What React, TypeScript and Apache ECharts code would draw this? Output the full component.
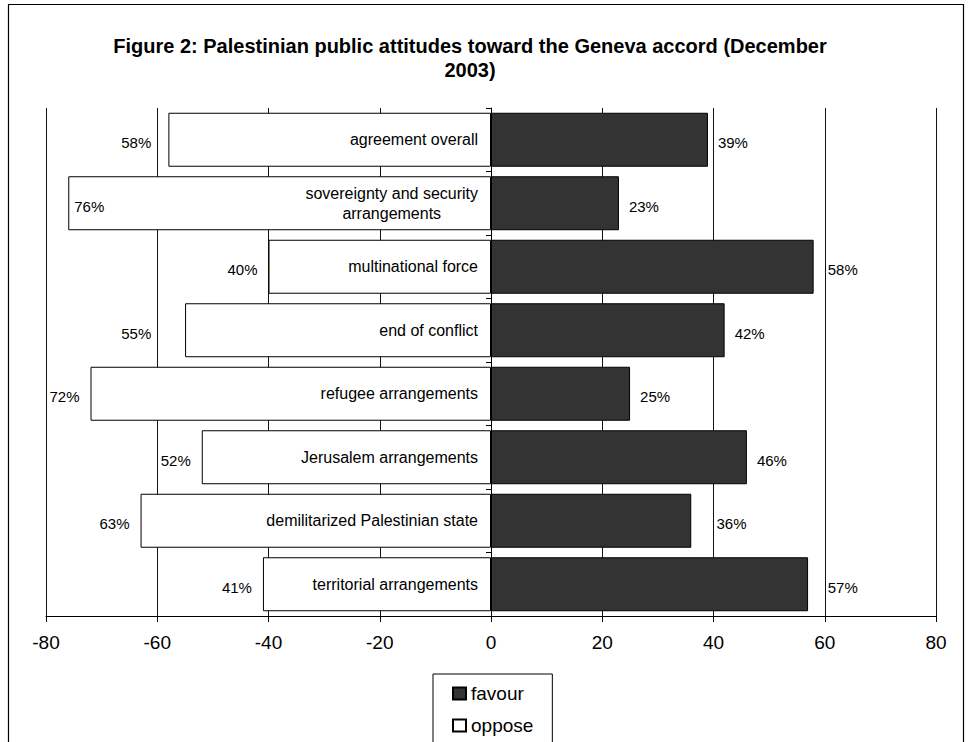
import React, { useEffect, useRef } from "react";
import * as echarts from "echarts";

const titleText =
  "Figure 2: Palestinian public attitudes toward the Geneva accord (December\n2003)";
const categories = [
  "agreement overall",
  "sovereignty and security\narrangements",
  "multinational force",
  "end of conflict",
  "refugee arrangements",
  "Jerusalem arrangements",
  "demilitarized Palestinian state",
  "territorial arrangements",
];
const favour = [39, 23, 58, 42, 25, 46, 36, 57];
const oppose = [58, 76, 40, 55, 72, 52, 63, 41];
const seriesNames = ["favour", "oppose"];
const xMin = -80;
const xMax = 80;
const xInterval = 20;

const FONT = '"Liberation Sans", Arial, Helvetica, sans-serif';
const VALUE_FONT_SIZE = 15;
const FAV_DIST = 10;
const OPP_DIST = 11;

function buildOption(favOff: number[], oppOff: number[]): any {
  return {
    animation: false,
    backgroundColor: "#ffffff",
    textStyle: { fontFamily: FONT, color: "#000" },
    title: {
      text: titleText,
      left: 470,
      top: 34,
      padding: 0,
      textAlign: "center",
      textStyle: {
        fontFamily: FONT,
        fontSize: 20,
        fontWeight: "bold",
        lineHeight: 24,
        color: "#000",
      },
    },
    graphic: [
      {
        type: "rect",
        silent: true,
        z: -10,
        shape: { x: 8.5, y: 4.5, width: 955, height: 800 },
        style: { fill: "none", stroke: "#000", lineWidth: 1.2 },
      },
    ],
    legend: {
      data: seriesNames,
      orient: "vertical",
      left: 433,
      top: 674,
      height: 200,
      padding: [10, 19, 10, 19],
      itemGap: 13,
      itemWidth: 13,
      itemHeight: 12,
      icon: "rect",
      selectedMode: false,
      borderColor: "#000",
      borderWidth: 1,
      textStyle: { fontFamily: FONT, fontSize: 19, color: "#000" },
    },
    grid: {
      left: 46,
      right: 36,
      top: 108,
      bottom: 126,
      containLabel: false,
      outerBoundsMode: "none",
    },
    xAxis: {
      type: "value",
      min: xMin,
      max: xMax,
      interval: xInterval,
      axisLine: { show: true, lineStyle: { color: "#000", width: 1 } },
      axisTick: { show: true, length: 6, lineStyle: { color: "#000" } },
      axisLabel: {
        fontFamily: FONT,
        fontSize: 19,
        color: "#000",
        margin: 17,
      },
      splitLine: { show: true, lineStyle: { color: "#111", width: 1 } },
    },
    yAxis: {
      type: "category",
      data: categories,
      inverse: true,
      axisLine: { show: true, onZero: true, lineStyle: { color: "#000" } },
      axisTick: { show: true, length: 5, lineStyle: { color: "#000" } },
      axisLabel: { show: false },
      splitLine: { show: false },
      z: 10,
    },
    series: [
      {
        name: seriesNames[0],
        type: "bar",
        barGap: "-100%",
        barCategoryGap: "15%",
        data: favour.map((v, i) => ({
          value: v,
          label: { offset: [favOff[i] || 0, 3] },
        })),
        itemStyle: { color: "#333333", borderColor: "#000", borderWidth: 1 },
        label: {
          show: true,
          position: "right",
          distance: FAV_DIST,
          formatter: (p: any) => Math.abs(p.value) + "%",
          fontFamily: FONT,
          fontSize: VALUE_FONT_SIZE,
          color: "#000",
        },
      },
      {
        name: seriesNames[1],
        type: "bar",
        barGap: "-100%",
        barCategoryGap: "15%",
        data: oppose.map((v, i) =>
          v > 74
            ? {
                value: -v,
                label: { position: "insideLeft", distance: 6, offset: [0, 3] },
              }
            : { value: -v, label: { offset: [oppOff[i] || 0, 3] } }
        ),
        itemStyle: { color: "#ffffff", borderColor: "#000", borderWidth: 1 },
        label: {
          show: true,
          position: "left",
          distance: OPP_DIST,
          formatter: (p: any) => Math.abs(p.value) + "%",
          fontFamily: FONT,
          fontSize: VALUE_FONT_SIZE,
          color: "#000",
        },
      },
      {
        name: "categoryNames",
        type: "scatter",
        symbolSize: 0,
        silent: true,
        z: 5,
        itemStyle: { opacity: 1 },
        data: categories.map((c) => [0, c]),
        label: {
          show: true,
          position: "left",
          distance: 13,
          opacity: 1,
          fontFamily: FONT,
          fontSize: 16,
          lineHeight: 20,
          color: "#000",
          formatter: (p: any) => {
            const name: string = p.value[1];
            return name.indexOf("\n") >= 0
              ? name
                  .split("\n")
                  .map((l) => "{c|" + l + "}")
                  .join("\n")
              : name;
          },
          rich: {
            c: {
              align: "center",
              fontFamily: FONT,
              fontSize: 16,
              lineHeight: 20,
              color: "#000",
            },
          },
        },
        emphasis: { disabled: true },
      },
    ],
  };
}

export default function App() {
  const ref = useRef<HTMLDivElement>(null);

  useEffect(() => {
    if (!ref.current) return;
    const chart = echarts.init(ref.current, undefined, { renderer: "svg" });
    chart.setOption(buildOption([], []));

    // keep value labels clear of the vertical gridlines
    const ctx = document.createElement("canvas").getContext("2d");
    const measure = (t: string) => {
      if (!ctx) return t.length * 8;
      ctx.font = VALUE_FONT_SIZE + "px " + FONT;
      return ctx.measureText(t).width;
    };
    const px = (v: number) =>
      chart.convertToPixel({ xAxisIndex: 0 } as any, v) as unknown as number;
    const gridPx: number[] = [];
    for (let g = xMin; g <= xMax; g += xInterval) gridPx.push(px(g));

    const favOff = favour.map((v) => {
      const end = px(v);
      const w = measure(v + "%");
      const s = end + FAV_DIST;
      let dx = 0;
      gridPx.forEach((gx) => {
        if (gx > end && gx >= s - 2 && gx <= s + w + 1) dx = gx + 3 - s;
      });
      return dx;
    });
    const oppOff = oppose.map((v) => {
      const end = px(-v);
      const w = measure(v + "%");
      const e = end - OPP_DIST;
      const s = e - w;
      let dx = 0;
      gridPx.forEach((gx) => {
        if (gx < end && gx >= s - 1 && gx <= e + 2) dx = gx - 6 - e;
      });
      return dx;
    });
    chart.setOption(buildOption(favOff, oppOff), true);

    return () => chart.dispose();
  }, []);

  return (
    <div
      ref={ref}
      style={{ position: "fixed", left: 0, top: 0, width: 972, height: 742 }}
    />
  );
}
